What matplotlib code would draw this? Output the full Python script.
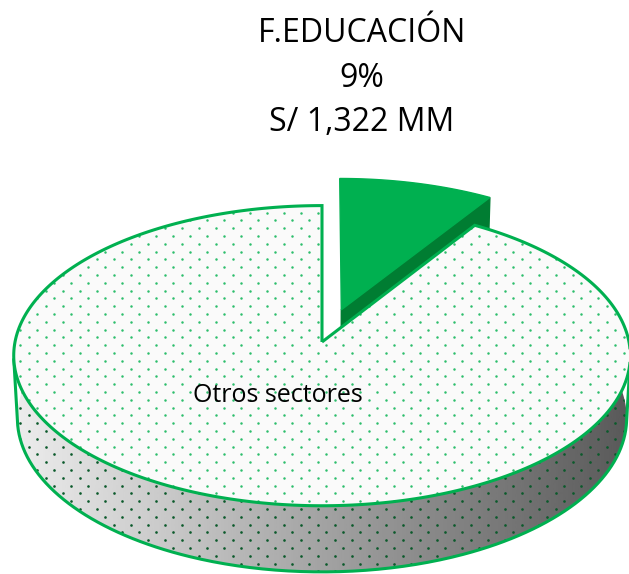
import numpy as np
import matplotlib.pyplot as plt
from matplotlib.patches import Polygon

# data
SECTORS = ['F.EDUCACIÓN', 'Otros sectores']
SHARES = [9, 91]            # percent of the budget
EDU_AMOUNT = 'S/ 1,322 MM'

GREEN = '#00B050'
DARK_GREEN = '#007D32'
DOT_TOP = '#2DBE6C'
DOT_SIDE = '#0B5A2B'

# simple perspective camera for the 3-D pie
PHI = np.radians(29)     # elevation
DIST = 9.6               # camera distance (pie radius = 1)
THICK = 0.234
EXPLODE = 0.23
CX, CY, SCALE = 322, 342, 307


def project(pts):
    pts = np.asarray(pts, float)
    cam = np.array([0, -DIST * np.cos(PHI), DIST * np.sin(PHI)])
    fwd = np.array([0, np.cos(PHI), -np.sin(PHI)])
    up = np.array([0, np.sin(PHI), np.cos(PHI)])
    d = pts - cam
    depth = d @ fwd
    u = DIST * d[:, 0] / depth
    v = DIST * (d @ up) / depth
    return np.column_stack([CX + SCALE * u, CY - SCALE * v])


def rim(t0, t1, z=0.0, off=(0, 0), n=300):
    t = np.radians(np.linspace(t0, t1, n))
    return np.column_stack([np.cos(t) + off[0], np.sin(t) + off[1], np.full(n, z)])


def dot_fill(ax, patch, color, z, size=3.2):
    # Excel style dotted pattern: staggered rows, screen aligned
    pts = []
    for i, y in enumerate(np.arange(2, 574, 7.8)):
        shift = 0 if i % 2 == 0 else 8.5
        for x in np.arange(3 + shift, 629, 17):
            pts.append((x, y))
    pts = np.array(pts)
    sc = ax.scatter(pts[:, 0], pts[:, 1], s=size, c=color, lw=0, zorder=z)
    sc.set_clip_path(patch)


fig = plt.figure(figsize=(6.29, 5.74), dpi=100)
ax = fig.add_axes([0, 0, 1, 1])
ax.set_xlim(0, 629)
ax.set_ylim(574, 0)
ax.axis('off')

# slice angles, first slice starts at 12 o'clock going clockwise
edu_span = 360 * SHARES[0] / sum(SHARES)
a_end = 90
a_start = 90 - edu_span
mid = np.radians((a_start + a_end) / 2)
off = (EXPLODE * np.cos(mid), EXPLODE * np.sin(mid))

# ---- exploded education slice (behind) ----
c0 = [[off[0], off[1], 0]]
c1 = [[off[0], off[1], -THICK]]
p0 = rim(a_start, a_start, 0, off, 1)
p1 = rim(a_start, a_start, -THICK, off, 1)
face = project(np.vstack([c0, p0, p1, c1]))
ax.add_patch(Polygon(face, closed=True, fc=DARK_GREEN, ec=DARK_GREEN, lw=1, zorder=1))
top = project(np.vstack([c0, rim(a_start, a_end, 0, off)]))
ax.add_patch(Polygon(top, closed=True, fc=GREEN, ec=GREEN, lw=1, zorder=2))

# ---- main pie side ----
side_fill = project(np.vstack([rim(170, 370, 0), rim(370, 170, -THICK)]))
side_patch = Polygon(side_fill, closed=True, fc='none', ec='none', zorder=3)
ax.add_patch(side_patch)
grad = np.linspace(0.93, 0.35, 256)[None, :]
img = ax.imshow(grad, cmap='gray', vmin=0, vmax=1, extent=(13, 629, 574, 0),
                aspect='auto', zorder=3)
img.set_clip_path(side_patch)
dot_fill(ax, side_patch, DOT_SIDE, 4, size=3.6)
sil = np.degrees(np.arcsin(-1 / (DIST * np.cos(PHI))))
s0, s1 = 180 - sil, 360 + sil
outline = project(np.vstack([rim(s0, s0, 0, n=1), rim(s0, s1, -THICK), rim(s1, s1, 0, n=1)]))
ax.plot(outline[:, 0], outline[:, 1], color=GREEN, lw=2.2, zorder=5,
        solid_joinstyle='round')

# ---- main pie top ----
main_top = project(np.vstack([[[0, 0, 0]], rim(a_end, a_start + 360, 0)]))
top_patch = Polygon(main_top, closed=True, fc='#FAFAFA', ec='none', zorder=6)
ax.add_patch(top_patch)
dot_fill(ax, top_patch, DOT_TOP, 7)
ax.add_patch(Polygon(main_top, closed=True, fc='none', ec=GREEN, lw=2.2,
                     joinstyle='miter', zorder=8))

# ---- labels ----
font = 'Open Sans'
pct = round(100 * SHARES[0] / sum(SHARES))
for txt, yb in zip([SECTORS[0], f'{pct}%', EDU_AMOUNT], [42, 87, 131]):
    ax.text(362, yb, txt, ha='center', va='baseline', fontsize=23,
            family=font, color='black', zorder=10)
ax.text(278, 402, SECTORS[1], ha='center', va='baseline', fontsize=18,
        family=font, color='black', zorder=10)

fig.savefig('out.png', dpi=100)
